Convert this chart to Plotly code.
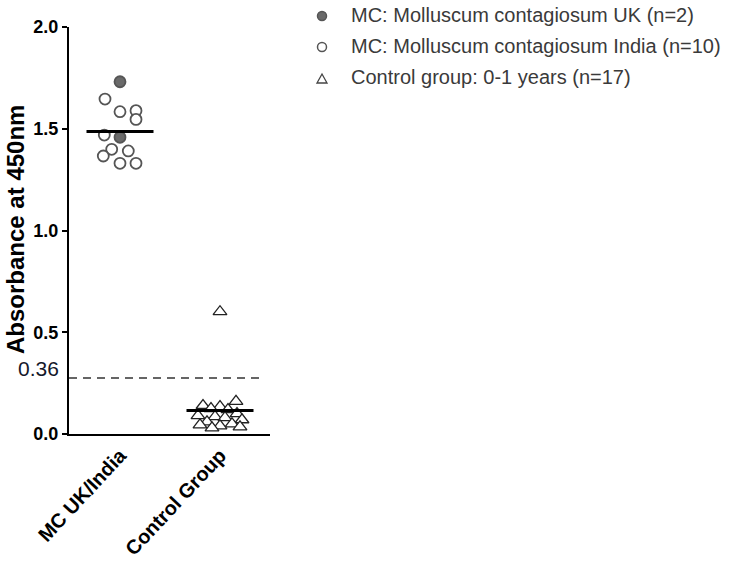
import plotly.graph_objects as go
import numpy as np

# ---- data ----
categories = ["MC UK/India", "Control Group"]
cat_pos = [0, 1]

mc_uk_values = [1.731, 1.458]
mc_uk_offsets = [0.0, 0.0]

mc_india_values = [1.646, 1.584, 1.589, 1.546, 1.469, 1.399, 1.366, 1.391, 1.330, 1.330]
mc_india_offsets = [-0.15, 0.0, 0.16, 0.16, -0.157, -0.083, -0.167, 0.083, 0.0, 0.16]

control_values = [0.601, 0.160, 0.140, 0.135, 0.125, 0.120, 0.100, 0.090, 0.085,
                  0.080, 0.070, 0.060, 0.050, 0.045, 0.040, 0.035, 0.030]
control_offsets = [0.0, 0.16, -0.17, 0.0, -0.09, 0.08, 0.17, -0.22, -0.05,
                   0.05, 0.22, -0.13, 0.12, -0.20, 0.0, 0.20, -0.08]

cutoff_label = "0.36"
cutoff_line_value = 0.275

y_ticks = [0.0, 0.5, 1.0, 1.5, 2.0]

legend_names = ["MC: Molluscum contagiosum UK (n=2)",
                "MC: Molluscum contagiosum India (n=10)",
                "Control group: 0-1 years (n=17)"]

FONT = "Arial, Liberation Sans, sans-serif"

# layout geometry (pixels); page body margin removed via post_script
W, H = 747, 569
L, T = 69, 27
R = W - 270
B = H - 434
PW, PH = W - L - R, H - T - B


def px_x(p):
    return (p - L) / PW


def px_y(p):
    return (H - B - p) / PH


fig = go.Figure()

# data traces
fig.add_trace(go.Scatter(
    x=[cat_pos[0] + o for o in mc_india_offsets], y=mc_india_values, mode="markers",
    marker=dict(symbol="circle", size=11, color="white", line=dict(color="#555", width=1.8)),
    showlegend=False))
fig.add_trace(go.Scatter(
    x=[cat_pos[0] + o for o in mc_uk_offsets], y=mc_uk_values, mode="markers",
    marker=dict(symbol="circle", size=11, color="#6a6a6a", line=dict(color="#555", width=1.8)),
    showlegend=False))
fig.add_trace(go.Scatter(
    x=[cat_pos[1] + o for o in control_offsets], y=control_values, mode="markers",
    marker=dict(symbol="triangle-up", size=12, color="white", line=dict(color="#222", width=1.3)),
    showlegend=False))

# mean lines
groups_vals = [mc_uk_values + mc_india_values, control_values]
for pos, vals in zip(cat_pos, groups_vals):
    m = float(np.mean(vals))
    fig.add_trace(go.Scatter(x=[pos - 0.335, pos + 0.335], y=[m, m], mode="lines",
                             line=dict(color="black", width=3), showlegend=False,
                             hoverinfo="skip"))

# cutoff dashed line + label
fig.add_shape(type="line", xref="paper", x0=0, x1=px_x(265), yref="y",
              y0=cutoff_line_value, y1=cutoff_line_value,
              line=dict(color="#333", width=1.6, dash="8px,6px"))
fig.add_annotation(text=cutoff_label, xref="paper", x=px_x(16), xanchor="left",
                   yref="paper", y=px_y(368), yanchor="middle", showarrow=False,
                   font=dict(family=FONT, size=21, color="#15182a"))

# y axis title
fig.add_annotation(text="<b>Absorbance at 450nm</b>", textangle=-90,
                   xref="paper", x=px_x(16), xanchor="center",
                   yref="paper", y=px_y(230), yanchor="middle", showarrow=False,
                   font=dict(family=FONT, size=24, color="black"))

# manual legend
legend_rows = [15, 46, 77]
marker_x = px_x(322)
for i, (name, row) in enumerate(zip(legend_names, legend_rows)):
    fig.add_annotation(text=name, xref="paper", x=px_x(349), xanchor="left",
                       yref="paper", y=px_y(row), yanchor="middle", showarrow=False,
                       font=dict(family=FONT, size=20, color="#3a3a3a"))
    if i == 0:
        fig.add_shape(type="circle", xref="paper", yref="paper",
                      xsizemode="pixel", ysizemode="pixel",
                      xanchor=marker_x, yanchor=px_y(row + 1),
                      x0=-4.5, x1=4.5, y0=-4.5, y1=4.5,
                      fillcolor="#6a6a6a", line=dict(color="#555", width=1.5))
    elif i == 1:
        fig.add_shape(type="circle", xref="paper", yref="paper",
                      xsizemode="pixel", ysizemode="pixel",
                      xanchor=marker_x, yanchor=px_y(row + 1),
                      x0=-4.5, x1=4.5, y0=-4.5, y1=4.5,
                      fillcolor="white", line=dict(color="#555", width=1.5))
    else:
        fig.add_shape(type="path", xref="paper", yref="paper",
                      xsizemode="pixel", ysizemode="pixel",
                      xanchor=marker_x, yanchor=px_y(row + 2),
                      path="M -5,-4 L 5,-4 L 0,5 Z",
                      fillcolor="white", line=dict(color="#444", width=1.3))

fig.update_layout(
    width=W, height=H,
    margin=dict(l=L, r=R, t=T, b=B, autoexpand=False),
    plot_bgcolor="white", paper_bgcolor="white",
    font=dict(family=FONT, color="black"),
    showlegend=False,
    xaxis=dict(range=[-0.51, 1.5], tickvals=cat_pos, ticktext=[f"<b>{c}</b>" for c in categories],
               tickangle=-47, showline=True, linecolor="black", linewidth=2,
               ticks="", showgrid=False, zeroline=False, automargin=False,
               tickfont=dict(family=FONT, size=20, color="black")),
    yaxis=dict(range=[0, 2.0], tickvals=y_ticks,
               ticktext=[f"<b>{v:.1f}</b>" for v in y_ticks],
               showline=True, linecolor="black", linewidth=2,
               ticks="outside", ticklen=5, tickwidth=1.5, tickcolor="black",
               showgrid=False, zeroline=False, automargin=False,
               tickfont=dict(family=FONT, size=18, color="black")),
)

fig.write_html("out.html", config={"displayModeBar": False},
               post_script="document.body.style.margin='0';document.body.style.padding='0';")
